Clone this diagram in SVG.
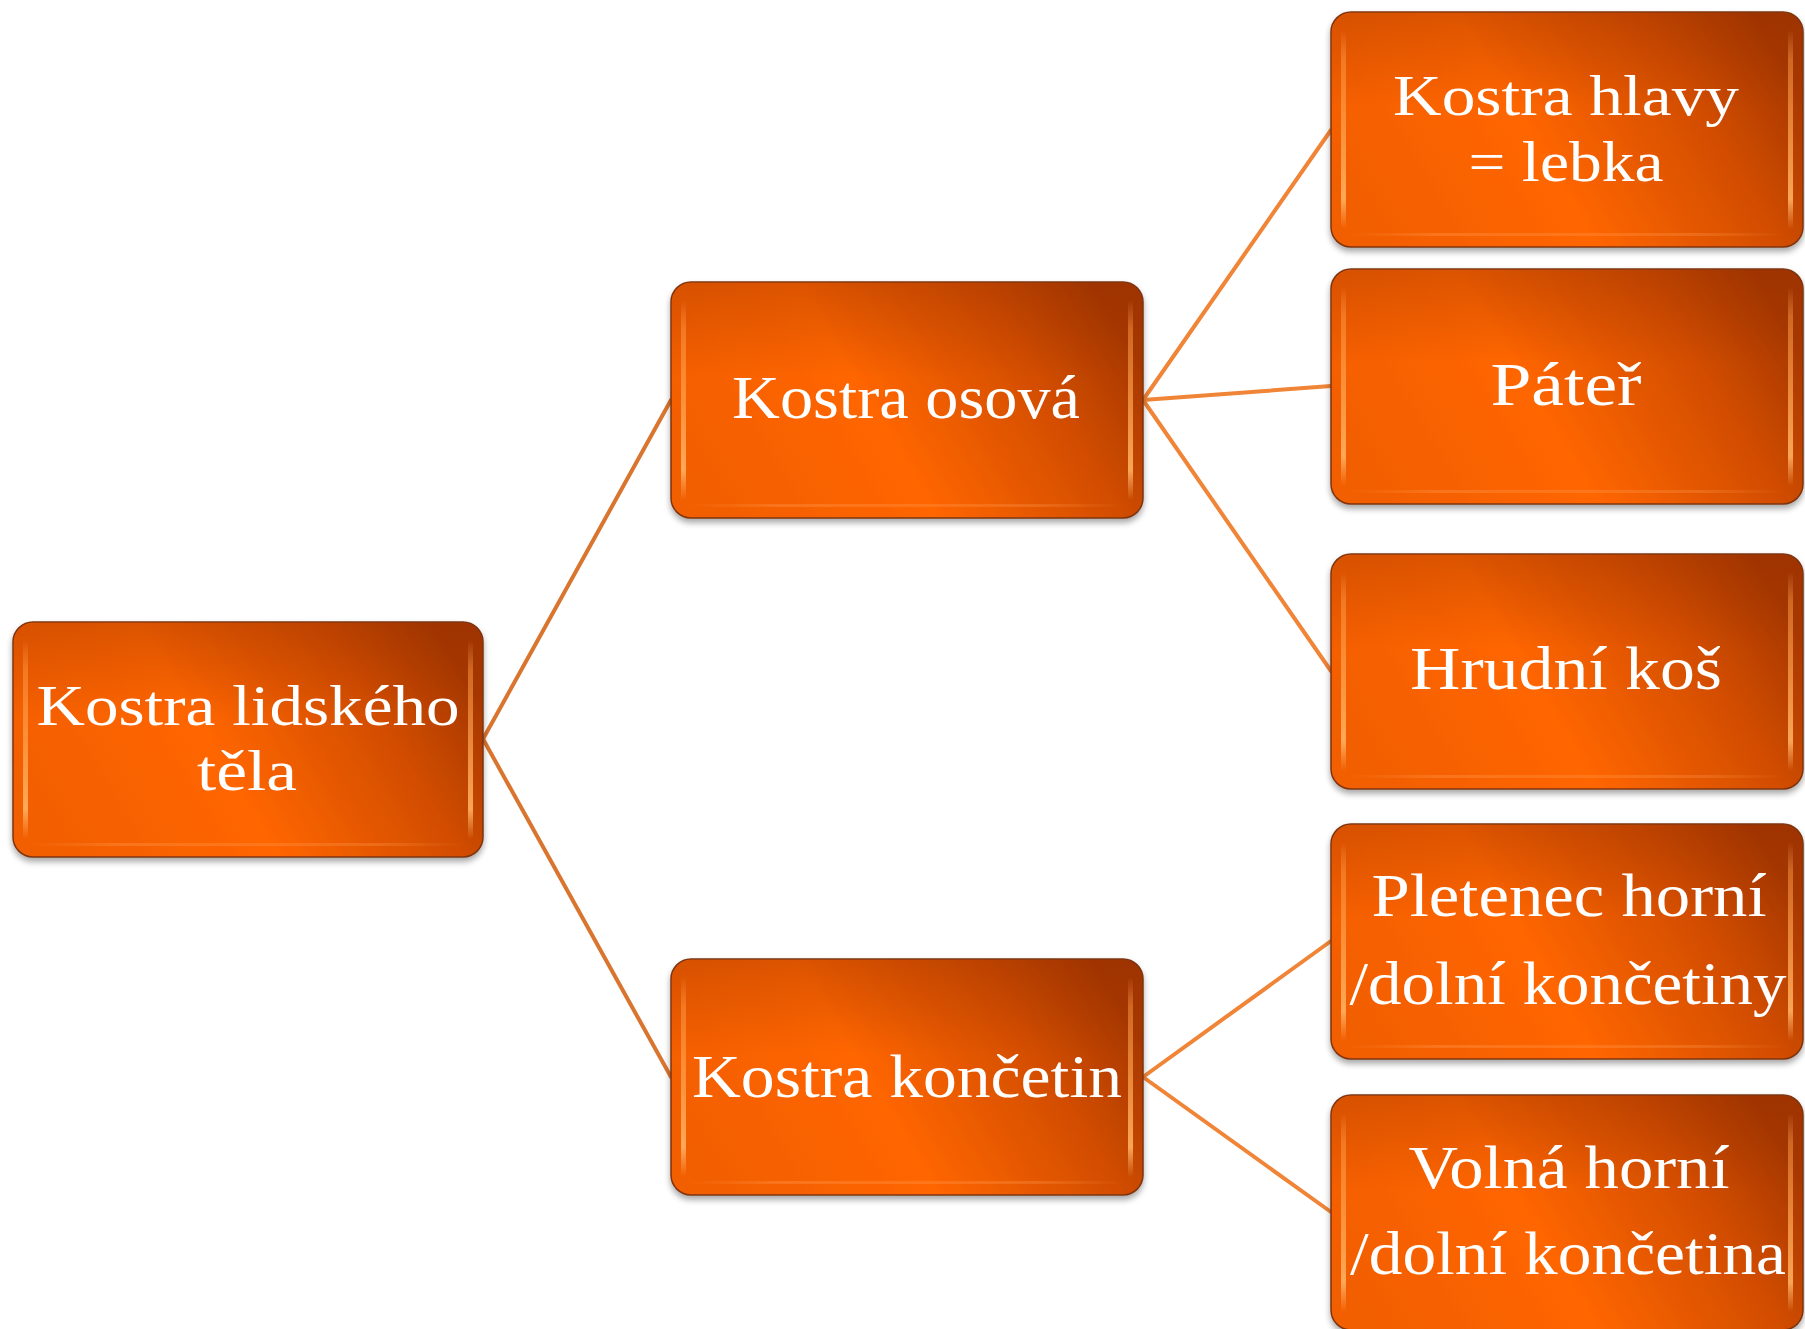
<svg xmlns="http://www.w3.org/2000/svg" width="1805" height="1329" viewBox="0 0 1805 1329">
<defs>
  <linearGradient id="boxFill" x1="0" y1="0.65" x2="1" y2="0.35">
    <stop offset="0" stop-color="#F25E00"/>
    <stop offset="0.42" stop-color="#FF6600"/>
    <stop offset="0.78" stop-color="#D24D00"/>
    <stop offset="1" stop-color="#A83800"/>
  </linearGradient>
  <linearGradient id="topShade" x1="0" y1="0" x2="0" y2="1">
    <stop offset="0" stop-color="#8A2A00" stop-opacity="0.3"/>
    <stop offset="0.4" stop-color="#8A2A00" stop-opacity="0"/>
    <stop offset="1" stop-color="#8A2A00" stop-opacity="0"/>
  </linearGradient>
  <linearGradient id="stripe" x1="0" y1="0" x2="0" y2="1">
    <stop offset="0" stop-color="#FFB070" stop-opacity="0"/>
    <stop offset="0.15" stop-color="#FF9A45" stop-opacity="0.5"/>
    <stop offset="0.85" stop-color="#FFB060" stop-opacity="0.9"/>
    <stop offset="1" stop-color="#FFB070" stop-opacity="0"/>
  </linearGradient>
  <linearGradient id="bottomGlow" x1="0" y1="0" x2="1" y2="0">
    <stop offset="0" stop-color="#FF9A50" stop-opacity="0"/>
    <stop offset="0.2" stop-color="#FF9A50" stop-opacity="0.35"/>
    <stop offset="0.8" stop-color="#FF9A50" stop-opacity="0.3"/>
    <stop offset="1" stop-color="#FF9A50" stop-opacity="0"/>
  </linearGradient>
  <filter id="shadow" x="-5%" y="-5%" width="110%" height="115%">
    <feGaussianBlur in="SourceAlpha" stdDeviation="3"/>
    <feOffset dx="0" dy="4" result="b"/>
    <feComponentTransfer><feFuncA type="linear" slope="0.35"/></feComponentTransfer>
    <feMerge><feMergeNode/><feMergeNode in="SourceGraphic"/></feMerge>
  </filter>
</defs>
<style>
  .box { fill: url(#boxFill); stroke: #7E3410; stroke-width: 1.5; filter: url(#shadow); }
  .shade { fill: url(#topShade); }
  .hl { fill: url(#stripe); }
  .bg { fill: url(#bottomGlow); }
  .lbl { font-family: "Liberation Serif", "Times New Roman", serif; font-size: 62px; fill: #FFFFFF; text-anchor: middle; }
  .sm { font-size: 58px; }
  .c1 { stroke: #D9752F; stroke-width: 4; fill: none; stroke-linecap: round; }
  .c2 { stroke: #F08437; stroke-width: 4; fill: none; stroke-linecap: round; }
</style>
<rect width="1805" height="1329" fill="#FFFFFF"/>

<g id="connectors">
  <line class="c1" x1="483" y1="739" x2="671" y2="400"/>
  <line class="c1" x1="483" y1="739" x2="671" y2="1077"/>
  <line class="c2" x1="1143" y1="400" x2="1331" y2="130"/>
  <line class="c2" x1="1143" y1="400" x2="1331" y2="386"/>
  <line class="c2" x1="1143" y1="400" x2="1331" y2="671"/>
  <line class="c2" x1="1143" y1="1077" x2="1331" y2="941"/>
  <line class="c2" x1="1143" y1="1077" x2="1331" y2="1212"/>
</g>

<g id="node-root">
  <rect class="box" x="13" y="622" width="470" height="235" rx="20"/>
  <rect class="shade" x="14" y="623" width="468" height="233" rx="19"/>
  <rect class="hl" x="23" y="640" width="5" height="199" rx="2.5"/>
  <rect class="hl" x="468" y="640" width="5" height="199" rx="2.5"/>
  <rect class="bg" x="30" y="843" width="436" height="3"/>
  <text class="lbl sm" x="248" y="725" textLength="423" lengthAdjust="spacingAndGlyphs">Kostra lidského</text>
  <text class="lbl sm" x="247" y="790" textLength="100" lengthAdjust="spacingAndGlyphs">těla</text>
</g>

<g id="node-osova">
  <rect class="box" x="671" y="282" width="472" height="236" rx="20"/>
  <rect class="shade" x="672" y="283" width="470" height="234" rx="19"/>
  <rect class="hl" x="681" y="300" width="5" height="200" rx="2.5"/>
  <rect class="hl" x="1128" y="300" width="5" height="200" rx="2.5"/>
  <rect class="bg" x="688" y="504" width="438" height="3"/>
  <text class="lbl" x="906" y="418" textLength="348" lengthAdjust="spacingAndGlyphs">Kostra osová</text>
</g>

<g id="node-koncetin">
  <rect class="box" x="671" y="959" width="472" height="236" rx="20"/>
  <rect class="shade" x="672" y="960" width="470" height="234" rx="19"/>
  <rect class="hl" x="681" y="977" width="5" height="200" rx="2.5"/>
  <rect class="hl" x="1128" y="977" width="5" height="200" rx="2.5"/>
  <rect class="bg" x="688" y="1181" width="438" height="3"/>
  <text class="lbl" x="907" y="1097" textLength="430" lengthAdjust="spacingAndGlyphs">Kostra končetin</text>
</g>

<g id="node-hlava">
  <rect class="box" x="1331" y="12" width="472" height="235" rx="20"/>
  <rect class="shade" x="1332" y="13" width="470" height="233" rx="19"/>
  <rect class="hl" x="1341" y="30" width="5" height="199" rx="2.5"/>
  <rect class="hl" x="1788" y="30" width="5" height="199" rx="2.5"/>
  <rect class="bg" x="1348" y="233" width="438" height="3"/>
  <text class="lbl sm" x="1566" y="115" textLength="346" lengthAdjust="spacingAndGlyphs">Kostra hlavy</text>
  <text class="lbl sm" x="1566" y="181" textLength="195" lengthAdjust="spacingAndGlyphs">= lebka</text>
</g>

<g id="node-pater">
  <rect class="box" x="1331" y="269" width="472" height="235" rx="20"/>
  <rect class="shade" x="1332" y="270" width="470" height="233" rx="19"/>
  <rect class="hl" x="1341" y="287" width="5" height="199" rx="2.5"/>
  <rect class="hl" x="1788" y="287" width="5" height="199" rx="2.5"/>
  <rect class="bg" x="1348" y="490" width="438" height="3"/>
  <text class="lbl" x="1566" y="405" textLength="151" lengthAdjust="spacingAndGlyphs">Páteř</text>
</g>

<g id="node-hrudni">
  <rect class="box" x="1331" y="554" width="472" height="235" rx="20"/>
  <rect class="shade" x="1332" y="555" width="470" height="233" rx="19"/>
  <rect class="hl" x="1341" y="572" width="5" height="199" rx="2.5"/>
  <rect class="hl" x="1788" y="572" width="5" height="199" rx="2.5"/>
  <rect class="bg" x="1348" y="775" width="438" height="3"/>
  <text class="lbl" x="1566" y="689" textLength="312" lengthAdjust="spacingAndGlyphs">Hrudní koš</text>
</g>

<g id="node-pletenec">
  <rect class="box" x="1331" y="824" width="472" height="235" rx="20"/>
  <rect class="shade" x="1332" y="825" width="470" height="233" rx="19"/>
  <rect class="hl" x="1341" y="842" width="5" height="199" rx="2.5"/>
  <rect class="hl" x="1788" y="842" width="5" height="199" rx="2.5"/>
  <rect class="bg" x="1348" y="1045" width="438" height="3"/>
  <text class="lbl" x="1569" y="916" textLength="395" lengthAdjust="spacingAndGlyphs">Pletenec horní</text>
  <text class="lbl" x="1568" y="1004" textLength="437" lengthAdjust="spacingAndGlyphs">/dolní končetiny</text>
</g>

<g id="node-volna">
  <rect class="box" x="1331" y="1095" width="472" height="235" rx="20"/>
  <rect class="shade" x="1332" y="1096" width="470" height="233" rx="19"/>
  <rect class="hl" x="1341" y="1113" width="5" height="199" rx="2.5"/>
  <rect class="hl" x="1788" y="1113" width="5" height="199" rx="2.5"/>
  <text class="lbl" x="1569" y="1188" textLength="321" lengthAdjust="spacingAndGlyphs">Volná horní</text>
  <text class="lbl" x="1568" y="1274" textLength="436" lengthAdjust="spacingAndGlyphs">/dolní končetina</text>
</g>
</svg>
